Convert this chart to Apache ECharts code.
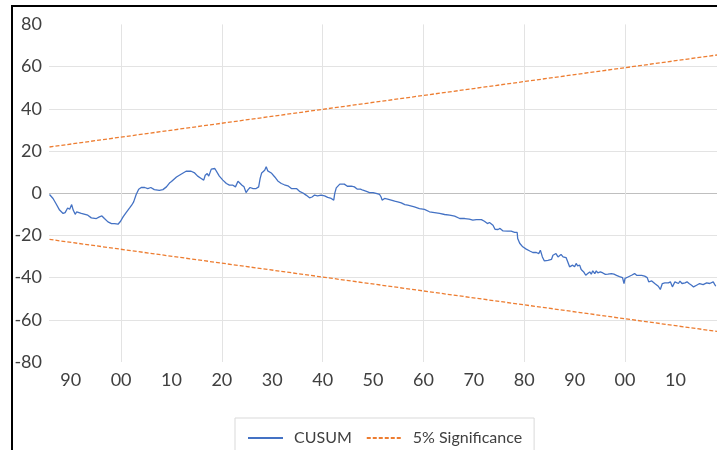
<!DOCTYPE html>
<html>
<head>
<meta charset="utf-8">
<script src="https://cdn.jsdelivr.net/npm/echarts@6/dist/echarts.min.js"></script>
<style>
html,body{margin:0;padding:0;background:#fff;}
#chart{width:717px;height:450px;}
</style>
</head>
<body>
<div id="chart"></div>
<script>
// ---- data ----
const seriesNames = ['CUSUM', '5% Significance'];
const xTickLabels = [1890, 1900, 1910, 1920, 1930, 1940, 1950, 1960, 1970, 1980, 1990, 2000, 2010];
const xGridYears = [1900, 1920, 1940, 1960, 1980, 2000];
const yTicks = [-80, -60, -40, -20, 0, 20, 40, 60, 80];

// [year, CUSUM value]
const cusumPoints = [
[1885.8,-0.6],[1886.5,-2.5],[1887.1,-5],[1887.8,-8],[1888.5,-9.6],[1888.9,-9.2],[1889.4,-7],[1889.8,-7.6],
[1890.2,-5.4],[1890.5,-8],[1890.9,-10],[1891.2,-8.8],[1892.1,-9.6],[1893.4,-10.4],[1894.1,-11.7],[1895.1,-12],
[1895.7,-11.2],[1896.2,-10.8],[1896.7,-12],[1897.4,-13.6],[1898.1,-14.4],[1898.7,-14.4],[1899.4,-14.7],[1899.9,-13.3],
[1900.4,-11.2],[1901.0,-9.2],[1901.7,-7],[1902.1,-5.7],[1902.5,-4.1],[1903.0,-0.6],[1903.5,1.9],[1904.0,2.7],
[1904.7,2.7],[1905.3,2.2],[1905.9,2.7],[1906.6,1.7],[1907.6,1.3],[1908.3,1.7],[1909.0,3],[1909.6,4.8],
[1910.0,5.5],[1911.0,7.7],[1911.9,9],[1912.9,10.4],[1913.9,10.4],[1914.6,9.6],[1915.2,8.1],[1915.9,7],
[1916.4,6.2],[1916.7,8.5],[1917.1,9.3],[1917.4,8.1],[1917.9,11.4],[1918.6,11.7],[1918.9,10.9],[1919.5,8.1],
[1920.2,6.2],[1920.9,4.6],[1921.5,3.8],[1922.2,3.8],[1922.7,3],[1923.2,5.7],[1923.5,5],[1924.0,3.8],
[1924.4,3],[1924.8,0.3],[1925.2,1.7],[1925.6,2.7],[1926.2,2.2],[1926.8,2.2],[1927.3,3],[1927.6,7],
[1927.9,9.6],[1928.5,10.9],[1928.8,12.5],[1929.1,10.6],[1929.8,9.6],[1930.5,7.7],[1931.1,5.8],[1931.8,4.6],
[1932.4,4],[1933.1,3.5],[1933.8,2.2],[1934.8,2.2],[1935.4,0.9],[1936.1,0.1],[1936.7,-0.9],[1937.4,-2.2],
[1937.9,-1.8],[1938.4,-0.9],[1939.0,-1.3],[1939.7,-0.9],[1940.4,-1.3],[1941.0,-2],[1941.7,-2.5],[1942.2,-3.3],
[1942.4,-0.1],[1942.7,2.5],[1943.4,4.3],[1944.3,4.3],[1944.9,3.3],[1945.7,3.3],[1946.3,3],[1946.9,1.9],
[1947.5,1.9],[1948.0,1.4],[1948.7,0.9],[1949.3,0.3],[1950.0,0.3],[1950.6,-0.1],[1951.3,-0.6],[1951.6,-1.8],
[1951.8,-3.3],[1952.3,-2.5],[1952.9,-2.8],[1953.6,-3.3],[1954.3,-3.8],[1954.9,-4.1],[1955.6,-4.6],[1956.3,-5.4],
[1956.9,-5.7],[1957.2,-5.6],[1958.2,-6.5],[1959.2,-7.3],[1960.2,-7.7],[1961.2,-8.8],[1962.2,-9.2],[1963.2,-9.6],
[1964.2,-10.1],[1965.2,-10.4],[1966.2,-10.9],[1967.2,-12],[1968.2,-12],[1969.1,-12.3],[1969.8,-12.8],[1970.5,-12.5],
[1971.5,-12.5],[1972.1,-13.3],[1972.7,-14.4],[1973.1,-13.9],[1973.8,-15.2],[1974.2,-17.1],[1974.8,-17.2],[1975.2,-16.7],
[1975.8,-17.9],[1976.1,-18.6],[1976.7,-18],[1977.4,-18],[1978.1,-18.6],[1978.6,-18.6],[1978.7,-21.5],[1979.1,-23.7],
[1979.7,-25.4],[1980.4,-26.5],[1981.1,-27.4],[1981.7,-28.1],[1982.4,-28.1],[1982.9,-28.6],[1983.2,-27],[1983.6,-30.2],
[1984.0,-32.1],[1984.7,-31.8],[1985.4,-31.4],[1985.7,-29.4],[1986.0,-30.2],[1986.3,-28.6],[1986.7,-30.2],[1987.0,-30.9],
[1987.3,-29],[1987.7,-30.2],[1988.0,-29.4],[1988.3,-30.5],[1988.7,-33],[1989.0,-34.9],[1989.3,-35.7],[1989.6,-34.1],
[1990.0,-34.9],[1990.3,-33.3],[1990.6,-34.4],[1991.0,-34.1],[1991.3,-36.2],[1991.8,-37.3],[1992.2,-38.9],[1992.6,-38.1],
[1993.0,-37.3],[1993.3,-38.4],[1993.6,-36.8],[1994.0,-38.1],[1994.3,-36.8],[1994.6,-37.8],[1995.1,-37.3],[1995.6,-37.8],
[1996.1,-38.5],[1996.6,-38.4],[1997.3,-38.1],[1997.8,-38.4],[1998.3,-38.9],[1998.9,-39.5],[1999.5,-40],[1999.8,-42.8],
[2000.0,-40.4],[2000.6,-39.7],[2001.3,-38.9],[2001.9,-38.1],[2002.3,-38.9],[2002.6,-38.1],[2003.3,-38.9],[2003.9,-39.3],
[2004.4,-40],[2004.7,-42],[2005.3,-41.6],[2005.9,-42.8],[2006.6,-44.1],[2007.0,-45.6],[2007.4,-42.8],[2007.9,-42.5],
[2008.6,-42.5],[2009.0,-42],[2009.4,-44.4],[2009.9,-42],[2010.6,-42.8],[2010.9,-41.7],[2011.3,-42.8],[2011.9,-42.5],
[2012.3,-42],[2012.7,-42.8],[2013.2,-43.6],[2013.6,-44.4],[2014.2,-43.6],[2014.8,-42.8],[2015.5,-43.3],[2016.2,-42.5],
[2016.8,-42.8],[2017.5,-42],[2018.0,-44.1]
];

// 5% significance bounds (straight lines): endpoints [year, value]
const upperBound = [[1885.8, 21.9], [2018.25, 65.5]];
const lowerBound = [[1885.8, -21.9], [2018.25, -65.5]];

// ---- chart ----
const FONT = 'Lato';
const TXT = '#404040';
const chart = echarts.init(document.getElementById('chart'), null, {renderer: 'canvas'});

const ySplitColors = yTicks.map(v => (v === -80 || v === 80) ? 'rgba(0,0,0,0)' : (v === 0 ? '#bfbfbf' : '#e3e3e3'));

chart.setOption({
  animation: false,
  backgroundColor: '#ffffff',
  textStyle: {fontFamily: FONT},
  graphic: [{
    type: 'rect',
    shape: {x: 12, y: 6, width: 800, height: 600},
    style: {fill: 'none', stroke: '#000000', lineWidth: 2},
    z: 100, silent: true
  }],
  grid: {left: 49, right: 0, top: 24.4, bottom: 88, containLabel: false},
  legend: {
    data: seriesNames,
    left: 235, top: 418,
    padding: [12, 12, 12, 12],
    itemWidth: 35, itemHeight: 14, itemGap: 14,
    borderColor: '#d9d9d9', borderWidth: 1,
    itemStyle: {opacity: 0},
    textStyle: {fontFamily: FONT, fontSize: 16, color: TXT, padding: [0, 0, 0, 6]}
  },
  xAxis: {
    type: 'value',
    min: 1885.7, max: 2018.25,
    axisLine: {show: false},
    axisTick: {show: false, customValues: xGridYears},
    axisLabel: {
      customValues: xTickLabels,
      formatter: v => String(Math.round(v) % 100).padStart(2, '0'),
      fontFamily: FONT, fontSize: 18, color: TXT, margin: 9
    },
    splitLine: {show: true, lineStyle: {color: '#e3e3e3', width: 1}}
  },
  yAxis: {
    type: 'value',
    min: -80, max: 80, interval: 20,
    axisLine: {show: false},
    axisTick: {show: false},
    axisLabel: {fontFamily: FONT, fontSize: 18, color: TXT, margin: 7},
    splitLine: {show: true, lineStyle: {color: ySplitColors, width: 1}}
  },
  series: [
    {
      name: seriesNames[0], type: 'line', data: cusumPoints,
      symbol: 'none', smooth: false,
      lineStyle: {color: '#4472C4', width: 1.3}, itemStyle: {color: '#4472C4'}, z: 5
    },
    {
      name: seriesNames[1], type: 'line', data: upperBound,
      symbol: 'none',
      lineStyle: {color: '#ED7D31', width: 1.3, type: [4, 2]}, itemStyle: {color: '#ED7D31'}, z: 4
    },
    {
      name: seriesNames[1], type: 'line', data: lowerBound,
      symbol: 'none',
      lineStyle: {color: '#ED7D31', width: 1.3, type: [4, 2]}, itemStyle: {color: '#ED7D31'}, z: 4
    }
  ]
});
</script>
</body>
</html>
